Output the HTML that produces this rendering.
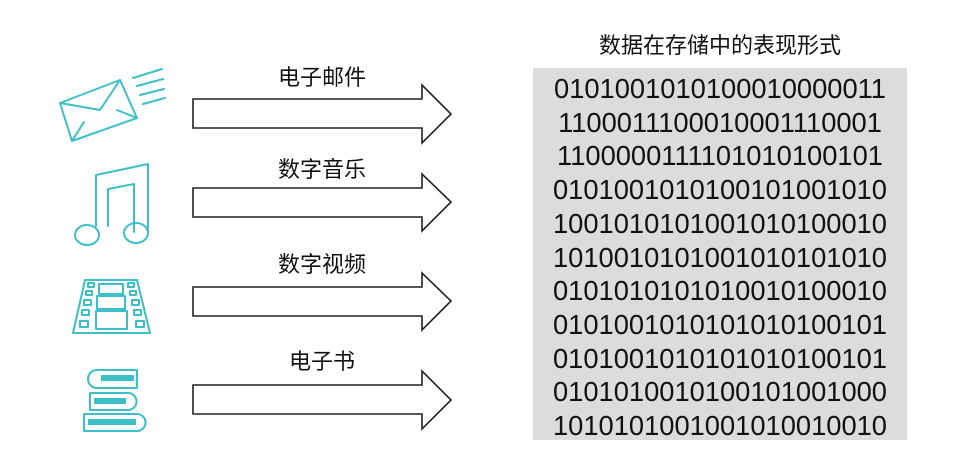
<!DOCTYPE html>
<html><head><meta charset="utf-8"><style>
body{margin:0;width:965px;height:449px;background:#fff;overflow:hidden;position:relative;font-family:"Liberation Sans","Noto Sans CJK SC",sans-serif}
.lbl{position:absolute;font-size:22px;color:#111;transform:translateX(-50%);white-space:nowrap;line-height:1}
#box{position:absolute;left:533px;top:68px;width:374px;height:372px;background:#dcdcdc}
#bits{position:absolute;left:533px;top:72px;width:374px;text-align:center;font-size:27.3px;line-height:33.7px;color:#111;font-family:"Liberation Sans",sans-serif}
</style></head><body>
<div class="lbl" style="left:720px;top:35px">数据在存储中的表现形式</div>
<div id="box"></div>
<div id="bits">0101001010100010000011<br>1100011100010001110001<br>1100000111101010100101<br>0101001010100101001010<br>1001010101001010100010<br>1010010101001010101010<br>0101010101010010100010<br>0101001010101010100101<br>0101001010101010100101<br>0101010010100101001000<br>1010101001001010010010</div>
<div class="lbl" style="left:322px;top:67px">电子邮件</div>
<div class="lbl" style="left:322px;top:159px">数字音乐</div>
<div class="lbl" style="left:322px;top:254px">数字视频</div>
<div class="lbl" style="left:322px;top:351px">电子书</div>
<svg width="965" height="449" style="position:absolute;left:0;top:0">
<g fill="#fff" stroke="#222" stroke-width="1.6">
<polygon points="193,99 422,99 422,85 451,114 422,143 422,128 193,128"/>
<polygon points="193,188 422,188 422,174 451,202 422,231 422,217 193,217"/>
<polygon points="193,287 422,287 422,273 451,301 422,330 422,316 193,316"/>
<polygon points="193,385 422,385 422,371 451,400 422,429 422,414 193,414"/>
</g>
<g fill="none" stroke="#3cbfc8" stroke-width="2" stroke-linejoin="round" stroke-linecap="round">
<!-- envelope -->
<polygon points="60,103 120,80 137,118 72,141"/>
<polyline points="60,103 100,110 120,80"/>
<line x1="72" y1="141" x2="84" y2="122"/><line x1="137" y1="118" x2="117" y2="110"/>
<line x1="133" y1="78" x2="162" y2="69"/><line x1="137" y1="86" x2="163" y2="79"/>
<line x1="140" y1="95" x2="164" y2="89"/><line x1="143" y1="104" x2="165" y2="98"/>
<!-- note -->
<path d="M96,226 L96,175 L148,164 L148,232 M134,232 L134,184 L108,189 L108,226"/>
<ellipse cx="87" cy="235" rx="12" ry="10"/><ellipse cx="136" cy="233" rx="12" ry="10"/>
<!-- film -->
<path d="M85,280 L137,280 L150,333 L73,333 Z"/>
<rect x="99" y="284" width="24" height="10"/><rect x="97" y="296" width="28" height="13"/><rect x="96" y="311" width="31" height="18"/>
<rect x="88" y="283" width="6" height="4"/><rect x="86" y="291" width="6" height="4"/><rect x="84" y="300" width="7" height="5"/><rect x="82" y="310" width="7" height="5"/><rect x="80" y="321" width="8" height="6"/>
<rect x="128" y="283" width="6" height="4"/><rect x="130" y="291" width="6" height="4"/><rect x="132" y="300" width="7" height="5"/><rect x="134" y="310" width="7" height="5"/><rect x="136" y="321" width="8" height="6"/>
<!-- books -->
<path d="M97,370 L137,370 L137,388 L97,388 A9,9 0 0 1 97,370Z"/>
<path d="M90,393 L128,393 A8,8 0 0 1 128,410 L90,410 Z"/>
<path d="M84,414 L137,414 A8,8 0 0 1 137,431 L84,431 Z"/>
</g>
<g fill="#3cbfc8"><rect x="101" y="375" width="33" height="6"/><rect x="94" y="398" width="32" height="6"/><rect x="88" y="419" width="48" height="6"/></g>
</svg>
</body></html>
